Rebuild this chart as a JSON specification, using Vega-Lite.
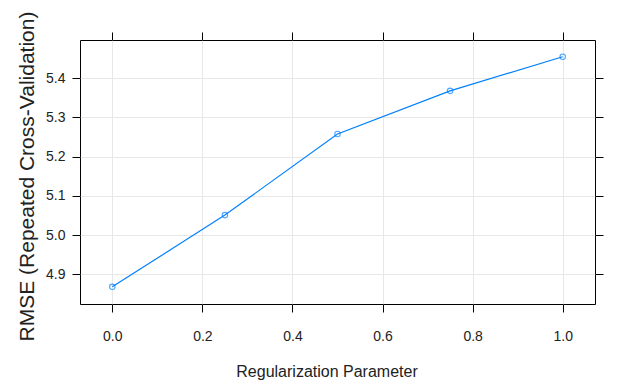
{
  "$schema": "https://vega.github.io/schema/vega-lite/v6.json",
  "width": 515,
  "height": 264,
  "autosize": "none",
  "padding": {"left": 80, "top": 40, "right": 31, "bottom": 76},
  "background": "white",
  "config": {
    "view": {"stroke": "black", "strokeWidth": 1},
    "axis": {
      "domain": false,
      "tickColor": "black",
      "tickSize": 8,
      "gridColor": "#e8e8e8",
      "gridWidth": 1,
      "labelFont": "Liberation Sans Narrow, Arial Narrow, Liberation Sans",
      "labelFontSize": 14,
      "labelColor": "#222222",
      "titleFont": "Liberation Sans Narrow, Arial Narrow, Liberation Sans",
      "titleFontWeight": "normal",
      "titleColor": "#222222"
    }
  },
  "data": {
    "values": [
      {"lambda": 0.0, "RMSE": 4.868},
      {"lambda": 0.25, "RMSE": 5.051},
      {"lambda": 0.5, "RMSE": 5.258},
      {"lambda": 0.75, "RMSE": 5.368},
      {"lambda": 1.0, "RMSE": 5.455}
    ]
  },
  "layer": [
    {
      "mark": {"type": "line", "color": "#0080ff", "strokeWidth": 1.2},
      "encoding": {
        "x": {
          "field": "lambda", "type": "quantitative",
          "scale": {"domain": [-0.0717, 1.0717], "nice": false, "zero": false},
          "axis": {
            "orient": "bottom",
            "values": [0, 0.2, 0.4, 0.6, 0.8, 1.0],
            "format": ".1f",
            "grid": true,
            "labelPadding": 17,
            "title": "Regularization Parameter",
            "titleFontSize": 16,
            "titleX": 246.5,
            "titleY": 72,
            "titleBaseline": "alphabetic",
            "titleAlign": "center"
          }
        },
        "y": {
          "field": "RMSE", "type": "quantitative",
          "scale": {"domain": [4.8242, 5.4977], "nice": false, "zero": false},
          "axis": {
            "orient": "left",
            "values": [4.9, 5.0, 5.1, 5.2, 5.3, 5.4],
            "format": ".1f",
            "grid": true,
            "labelPadding": 7,
            "title": "RMSE (Repeated Cross-Validation)",
            "titleFont": "Liberation Sans, Arial",
            "titleFontSize": 21,
            "titleAngle": -90,
            "titleX": -47,
            "titleY": 136,
            "titleBaseline": "alphabetic",
            "titleAlign": "center"
          }
        }
      }
    },
    {
      "mark": {"type": "point", "shape": "circle", "filled": false, "color": "#0080ff", "size": 30, "strokeWidth": 1.1},
      "encoding": {
        "x": {
          "field": "lambda", "type": "quantitative",
          "axis": {
            "orient": "top",
            "values": [0, 0.2, 0.4, 0.6, 0.8, 1.0],
            "labels": false,
            "grid": false,
            "title": null
          }
        },
        "y": {
          "field": "RMSE", "type": "quantitative",
          "axis": {
            "orient": "right",
            "values": [4.9, 5.0, 5.1, 5.2, 5.3, 5.4],
            "labels": false,
            "grid": false,
            "title": null
          }
        }
      }
    }
  ],
  "resolve": {"axis": {"x": "independent", "y": "independent"}}
}
